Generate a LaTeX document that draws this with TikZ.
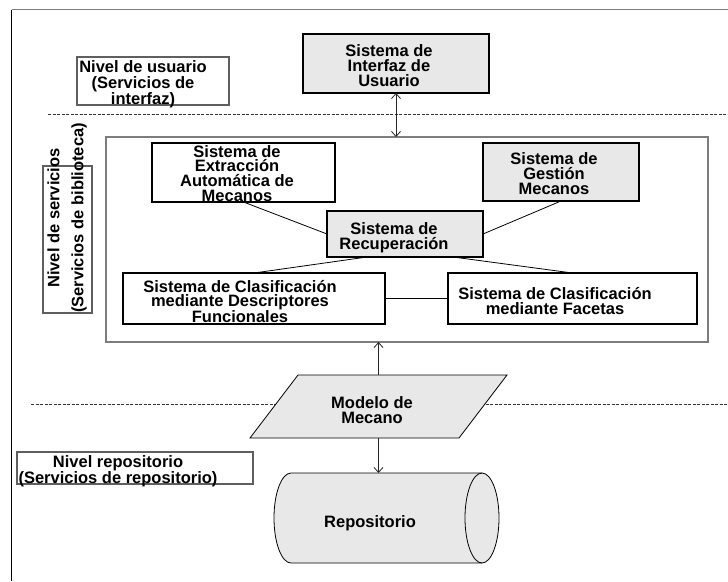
\documentclass[tikz,border=0pt]{standalone}
\usepackage{fontspec}
\setmainfont{Liberation Sans}
\usetikzlibrary{arrows.meta,calc,shapes.geometric}
\definecolor{boxgray}{RGB}{232,232,232}
\definecolor{framegray}{RGB}{125,125,125}
\definecolor{lblgray}{RGB}{95,95,95}
\begin{document}
\begin{tikzpicture}[x=1pt,y=-1pt,
  every node/.style={inner sep=0pt, outer sep=0pt},
  sysbox/.style={draw=black, line width=1.8pt, rectangle},
  lblbox/.style={draw=lblgray, line width=1.2pt, rectangle},
  txt/.style={font=\bfseries\fontsize{16.5}{15.2}\selectfont, align=center},
  conn/.style={draw=black, line width=0.8pt},
  arr/.style={draw=black!85, line width=0.8pt, arrows={-Straight Barb[length=5pt,width=9pt]}},
  darr/.style={draw=black!85, line width=0.8pt, arrows={Straight Barb[length=5pt,width=9pt]-Straight Barb[length=5pt,width=9pt]}},
  dashline/.style={draw=black!80, line width=0.8pt, dash pattern=on 3pt off 1.5pt}]
\useasboundingbox (0,0) rectangle (728,581);
% frame
\coordinate (ftl) at (11.5,9.5);
\coordinate (ftr) at (728,9.5);
\coordinate (fbl) at (11.5,581);
\draw[framegray, line width=1.5pt] (ftl) -- (ftr);
\draw[black, line width=1pt] (ftl) -- (fbl);
% dashed level separators
\coordinate (d1a) at (48,114);
\coordinate (d1b) at (728,114);
\coordinate (d2a) at (31,404);
\coordinate (d2b) at (728,404);
\draw[dashline] (d1a) -- (d1b);
\draw[dashline] (d2a) -- (d2b);
% user level
\node[sysbox, fill=boxgray, minimum width=186pt, minimum height=59pt] (ui) at (396,63.5) {};
\node[txt] (uit) at (389,65.8) {Sistema de\\Interfaz de\\Usuario};
\node[lblbox, minimum width=152pt, minimum height=48pt] (ulbl) at (153,81) {};
\node[txt] (ult) at (143,84.4) {Nivel de usuario\\(Servicios de\\interfaz)};
% services container
\node[draw=framegray, line width=1.8pt, minimum width=602pt, minimum height=205pt] (srv) at (407,239.5) {};
\node[lblbox, minimum width=49pt, minimum height=147pt] (slbl) at (67.5,239.5) {};
\node[txt, font=\bfseries\fontsize{16.5}{24}\selectfont, rotate=90] (slt) at (67,218) {Nivel de servicios\\(Servicios de biblioteca)};
% services
\node[sysbox, fill=white, minimum width=183pt, minimum height=59pt] (ext) at (243.5,172.5) {};
\node[txt, font=\bfseries\fontsize{16.5}{14.9}\selectfont] (extt) at (237,173.5) {Sistema de\\Extracción\\Automática de\\Mecanos};
\node[sysbox, fill=boxgray, minimum width=156pt, minimum height=58pt] (gest) at (561,172) {};
\node[txt] (gestt) at (554,173.7) {Sistema de\\Gestión\\Mecanos};
\node[sysbox, fill=boxgray, minimum width=156pt, minimum height=46pt] (rec) at (405,234) {};
\node[txt] (rect) at (394,238) {Sistema de\\Recuperación};
\node[sysbox, fill=white, minimum width=262pt, minimum height=51pt] (cdf) at (254,298.5) {};
\node[txt, font=\bfseries\fontsize{16.5}{14.2}\selectfont] (cdft) at (240,301.5) {Sistema de Clasificación\\mediante Descriptores\\Funcionales};
\node[sysbox, fill=white, minimum width=249pt, minimum height=51pt] (fac) at (572.5,298.5) {};
\node[txt] (fact) at (555,300.7) {Sistema de Clasificación\\mediante Facetas};
% connectors
\draw[conn] (ext.south) -- (rec.west);
\draw[conn] (gest.south) -- (rec.east);
\draw[conn] ($(rec.south)+(-38,0)$) -- (cdf.north);
\draw[conn] ($(rec.south)+(48,0)$) -- (fac.north);
\draw[conn] (cdf.east) -- (fac.west);
% model
\node[minimum width=257pt, minimum height=63pt] (mod) at (378.5,406.5) {};
\draw[fill=boxgray, draw=black, line width=0.8pt] (mod.south west) -- ($(mod.north west)+(48,0)$) -- (mod.north east) -- ($(mod.south east)+(-48,0)$) -- cycle;
\node[txt] (modt) at (372,409.7) {Modelo de\\Mecano};
% repository (horizontal cylinder)
\node[minimum width=225pt, minimum height=90pt] (rep) at (386.5,518) {};
\draw[fill=boxgray, draw=black, line width=0.8pt]
  ($(rep.north west)+(17,0)$) -- ($(rep.north east)+(-17,0)$)
  arc[start angle=90, end angle=-90, x radius=17pt, y radius=45pt]
  -- ($(rep.south west)+(17,0)$)
  arc[start angle=270, end angle=90, x radius=17pt, y radius=45pt] -- cycle;
\draw[black, line width=0.8pt] ($(rep.north east)+(-17,0)$)
  arc[start angle=90, end angle=270, x radius=17pt, y radius=45pt];
\node[txt] (rept) at (370,523) {Repositorio};
\node[lblbox, minimum width=236pt, minimum height=32pt] (rlbl) at (135,468) {};
\node[txt, font=\bfseries\fontsize{16.5}{16}\selectfont] (rlt) at (118,471) {Nivel repositorio\\(Servicios de repositorio)};
% arrows
\draw[darr] (ui.south) -- (ui.south |- srv.north);
\draw[arr] (mod.north) -- (mod.north |- srv.south);
\draw[arr] (mod.south) -- (mod.south |- rep.north);
\end{tikzpicture}
\end{document}
